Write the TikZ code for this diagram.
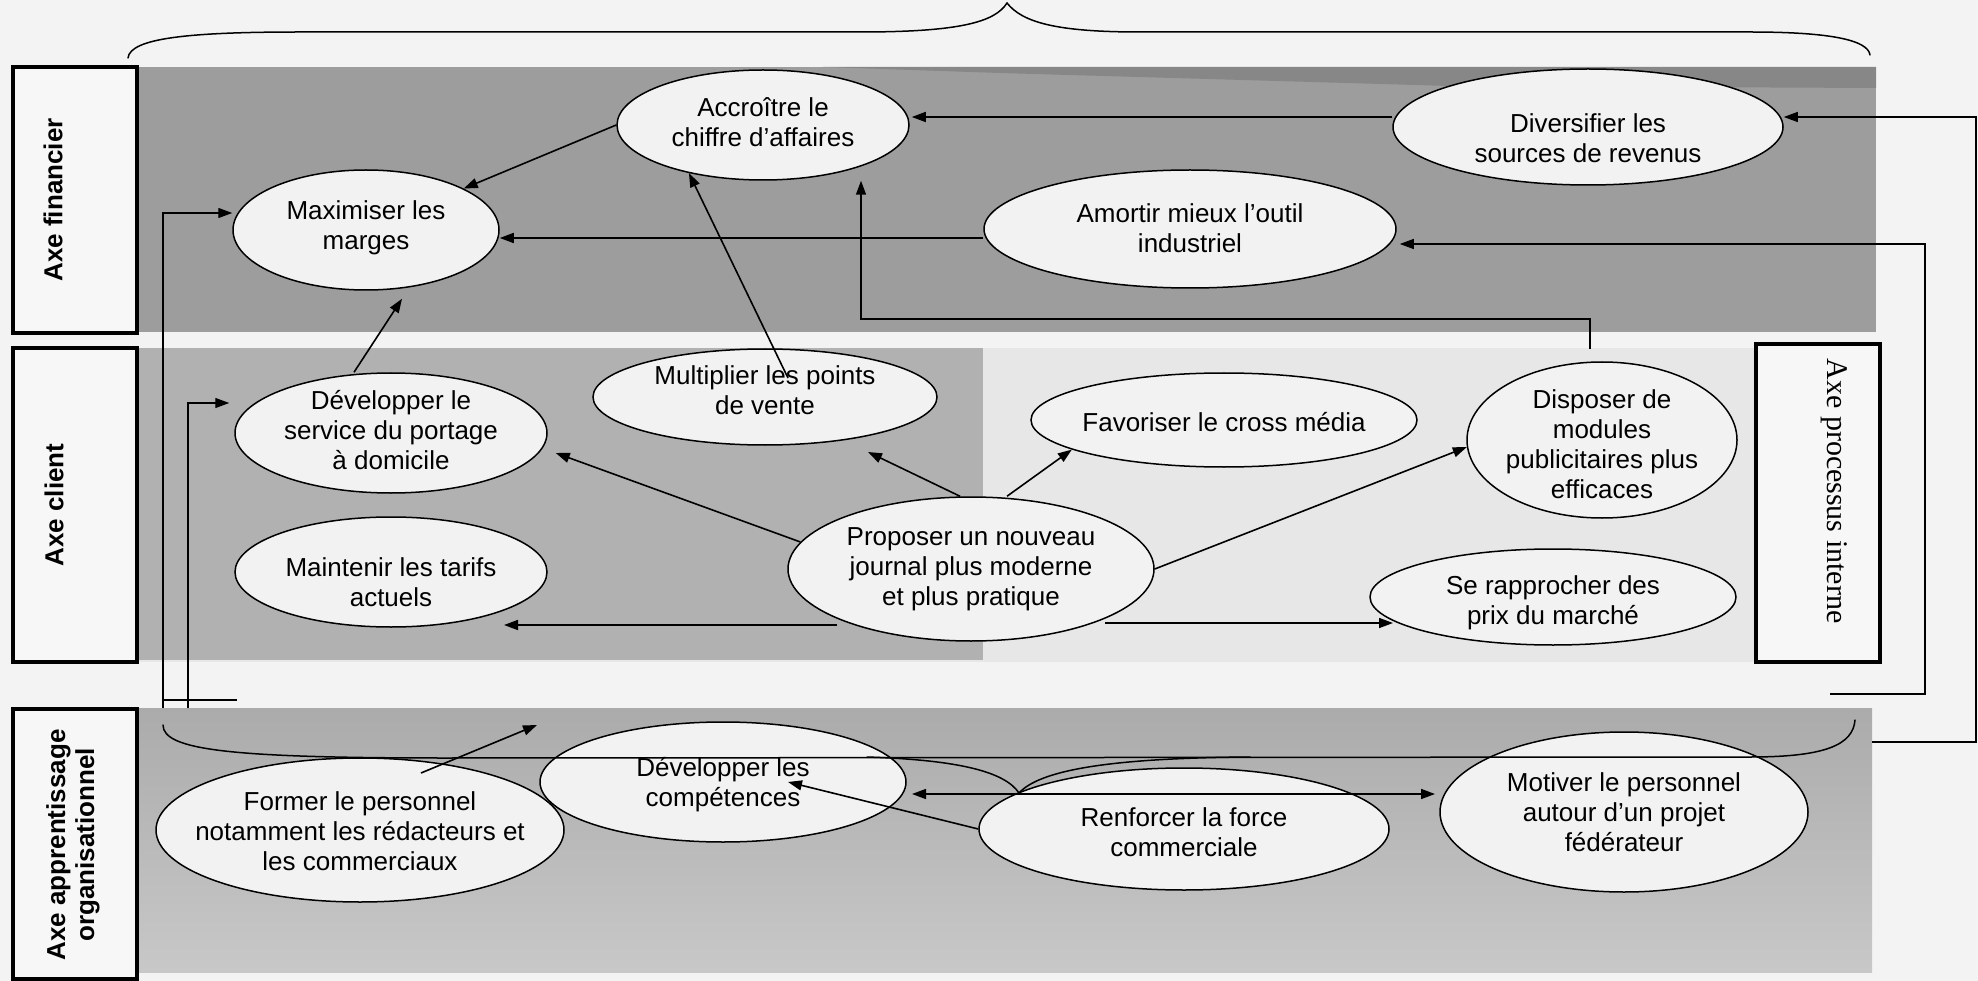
\documentclass[tikz,border=0pt]{standalone}
\usepackage{fontspec}
\setmainfont{Liberation Sans}
\newfontfamily\serifax{Liberation Serif}
\usetikzlibrary{shapes.geometric,arrows.meta,calc}
\definecolor{pagebg}{HTML}{F3F3F3}
\definecolor{midbg}{HTML}{E7E7E7}
\definecolor{finband}{HTML}{9D9D9D}
\definecolor{finstrip}{HTML}{878787}
\definecolor{cliband}{HTML}{B1B1B1}
\definecolor{apptop}{HTML}{ABABAB}
\definecolor{appbot}{HTML}{C8C8C8}
\definecolor{ellfill}{HTML}{F2F2F2}
\definecolor{boxfill}{HTML}{F7F7F7}
\tikzset{
  ell/.style={ellipse, draw=black, line width=1.5pt, fill=ellfill, inner sep=0pt},
  txt/.style={align=center, font=\fontsize{26}{30}\selectfont, inner sep=0pt},
  arr/.style={line width=1.6pt, -{Triangle[length=14pt,width=10pt]}},
  dblarr/.style={line width=1.6pt, {Triangle[length=14pt,width=10pt]}-{Triangle[length=14pt,width=10pt]}},
  fb/.style={line width=1.3pt},
  fbarr/.style={line width=1.3pt, -{Triangle[length=14pt,width=10pt]}},
  axebox/.style={draw=black, line width=4pt, fill=boxfill, inner sep=0pt},
  axetxt/.style={font=\bfseries\fontsize{26}{29}\selectfont, align=center, rotate=90, inner sep=0pt},
  bracepath/.style={line width=1.5pt, line cap=round}
}
\newcommand\ovl[7]{%
  \node[ell, minimum width=#4*2pt, minimum height=#5*2pt] (#1) at (#2,#3) {};
  \node[txt] (#1-t) at ([yshift=#7pt]#1.center) {#6};}
\begin{document}
\begin{tikzpicture}[x=1pt,y=-1pt]
\useasboundingbox (0,0) rectangle (1978,981);
% backgrounds
\fill[pagebg] (0,0) rectangle (1978,981);
\fill[midbg] (137,348) rectangle (1876,662);
\fill[finband] (137,67) rectangle (1876,332);
\fill[finstrip] (823,67) -- (1876,67) -- (1876,88) -- (1450,86) -- (1000,73) -- cycle;
\fill[cliband] (137,348) rectangle (983,660);
\shade[top color=apptop, bottom color=appbot] (137,708) rectangle (1872,972);

% axis label boxes
\node[axebox, minimum width=124pt, minimum height=266pt] (bfin) at (75,200) {};
\node[axetxt] (tfin) at (53,200) {Axe financier};
\node[axebox, minimum width=124pt, minimum height=314pt] (bcli) at (75,505) {};
\node[axetxt] (tcli) at (54,505) {Axe client};
\node[axebox, minimum width=124pt, minimum height=270pt] (bapp) at (75,844) {};
\node[axetxt] (tapp) at (73,845) {Axe apprentissage\\organisationnel};
\node[axebox, minimum width=124pt, minimum height=318pt] (bpro) at (1818,503) {};
\node[font=\serifax\fontsize{30}{32}\selectfont, rotate=-90, inner sep=0pt] (tpro) at (1834,491) {Axe processus interne};

% ellipses
\ovl{acc}{763}{125}{146}{55}{Accroître le\\chiffre d’affaires}{3}
\ovl{max}{366}{230}{133}{60}{Maximiser les\\marges}{2}
\ovl{div}{1588}{127}{195}{58}{Diversifier les\\sources de revenus}{-11}
\ovl{amo}{1190}{229}{206}{59}{Amortir mieux l’outil\\industriel}{1}
\ovl{dev}{391}{433}{156}{60}{Développer le\\service du portage\\à domicile}{3}
\ovl{mul}{765}{397}{172}{48}{Multiplier les points\\de vente}{7}
\ovl{mai}{391}{572}{156}{55}{Maintenir les tarifs\\actuels}{-10}
\ovl{pro}{971}{569}{183}{72}{Proposer un nouveau\\journal plus moderne\\et plus pratique}{0}
\ovl{fav}{1224}{420}{193}{47}{Favoriser le cross média}{-2}
\ovl{dis}{1602}{440}{135}{78}{Disposer de\\modules\\publicitaires plus\\efficaces}{-4}
\ovl{rap}{1553}{597}{183}{48}{Se rapprocher des\\prix du marché}{-6}
\ovl{form}{360}{830}{204}{72}{Former le personnel\\notamment les rédacteurs et\\les commerciaux}{-1}
\ovl{com}{723}{782}{183}{60}{Développer les\\compétences}{-3}
\ovl{ren}{1184}{829}{205}{61}{Renforcer la force\\commerciale}{-3}
\ovl{mot}{1624}{812}{184}{80}{Motiver le personnel\\autour d’un projet\\fédérateur}{0}

% braces
\draw[bracepath] (128,58) .. controls (130,38) and (190,32) .. (300,32) -- (860,32)
  .. controls (960,32) and (995,22) .. (1007,3)
  .. controls (1022,22) and (1055,32) .. (1140,32) -- (1750,32)
  .. controls (1830,32) and (1868,40) .. (1870,55);
\draw[bracepath] (163,725) .. controls (163,750) and (230,758) .. (446,758) -- (1750,757)
  .. controls (1825,757) and (1853,745) .. (1855,720);
\draw[bracepath] (867,757) .. controls (960,760) and (1005,772) .. (1019,793)
  .. controls (1040,770) and (1110,758) .. (1250,757);

% feedback lines
\coordinate (r1s) at (1872,742); \coordinate (r1c) at (1976,117);
\draw[fbarr] (r1s) -| (r1c) -- ([yshift=10pt]div.east);
\coordinate (r2s) at (1830,694); \coordinate (r2c) at (1925,244);
\draw[fbarr] (r2s) -| (r2c) -- ([yshift=-15pt,xshift=3pt]amo.east);
\coordinate (l1s) at (163,708); \coordinate (l2s) at (188,708);
\draw[fbarr] (l1s) |- ([yshift=17pt]max.west);
\draw[fbarr] (l2s) |- ([xshift=-5pt,yshift=30pt]dev.west);
\coordinate (s1) at (163,700); \coordinate (s2) at (237,700);
\draw[fb] (s1) -- (s2);

% connectors
\draw[arr] (acc.west) -- (max.23);
\draw[arr] ([yshift=10pt]div.west) -- ([yshift=8pt,xshift=2pt]acc.east);
\draw[arr] ([yshift=-9pt]amo.west) -- ([yshift=-8pt]max.east);
\draw[arr] ([xshift=-12pt,yshift=12pt]dis.north) -- ++(0,-30) -| ([xshift=98pt]acc.south);
\draw[arr] ([xshift=-37pt]dev.north) -- ([xshift=36pt,yshift=-8pt]max.south);
\draw[arr] ([xshift=23pt,yshift=19pt]mul.center) -- (acc.213);
\draw[arr] (pro.171) -- ([xshift=8pt,yshift=-20pt]dev.east);
\draw[arr] ([xshift=-11pt]pro.north) -- ([xshift=103pt,yshift=-55pt]mul.center);
\draw[arr] ([xshift=36pt]pro.north) -- (fav.191);
\draw[arr] (pro.east) -- (dis.183);
\draw[arr] ([xshift=-134pt,yshift=-56pt]pro.center) -- ([xshift=113pt,yshift=-53pt]mai.center);
\draw[arr] ([xshift=134pt,yshift=-54pt]pro.center) -- ([xshift=-160pt,yshift=-26pt]rap.center);
\coordinate (ftip) at (537,725);
\draw[arr] ([xshift=61pt,yshift=57pt]form.center) -- (ftip);
\draw[arr] (ren.west) -- ([xshift=65pt]com.center);
\draw[dblarr] ([xshift=189pt,yshift=-12pt]com.center) -- ([xshift=-189pt,yshift=18pt]mot.center);
\end{tikzpicture}
\end{document}
